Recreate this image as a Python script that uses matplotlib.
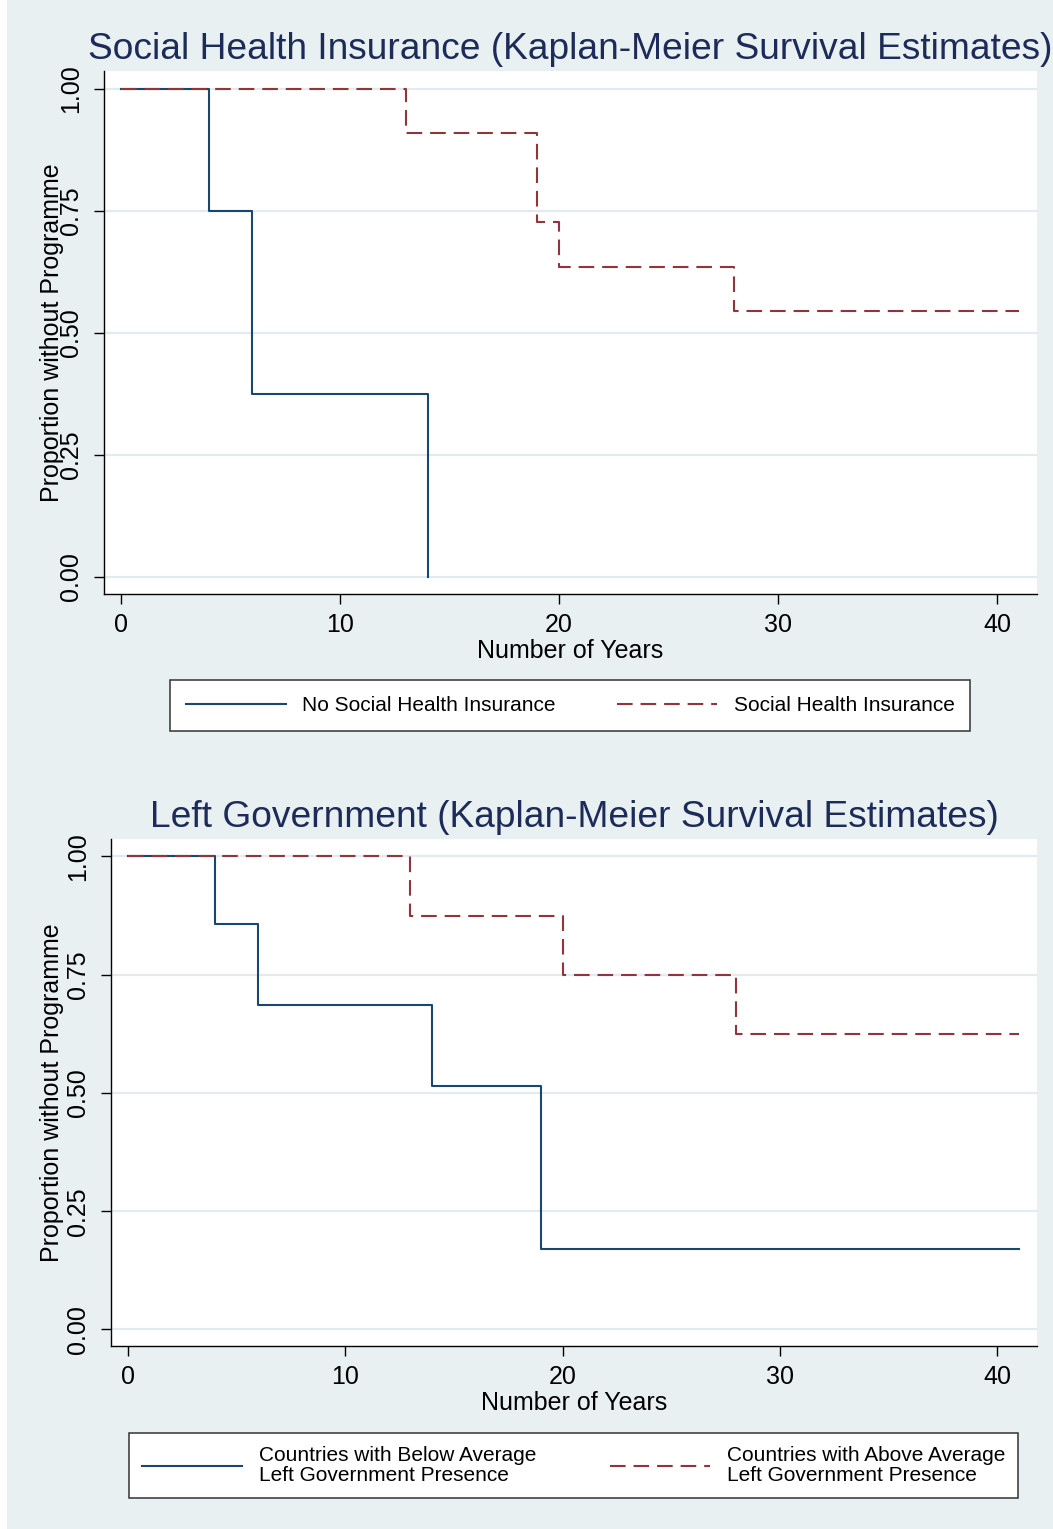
import matplotlib
matplotlib.use("Agg")
import matplotlib.pyplot as plt
from matplotlib.patches import Rectangle

plt.rcParams["font.family"] = ["Liberation Sans", "DejaVu Sans"]

# Kaplan-Meier step estimates, time in years
shi_no_t = [0, 4, 6, 14]
shi_no_s = [1.0, 0.75, 0.375, 0.0]
shi_yes_t = [0, 13, 19, 20, 28, 41]
shi_yes_s = [1.0, 0.909, 0.727, 0.636, 0.545, 0.545]

left_below_t = [0, 4, 6, 14, 19, 41]
left_below_s = [1.0, 0.857, 0.686, 0.514, 0.171, 0.171]
left_above_t = [0, 13, 20, 28, 41]
left_above_s = [1.0, 0.875, 0.75, 0.625, 0.625]

x_ticks = [0, 10, 20, 30, 40]
y_ticks = [0.0, 0.25, 0.5, 0.75, 1.0]

titles = ["Social Health Insurance (Kaplan-Meier Survival Estimates)",
          "Left Government (Kaplan-Meier Survival Estimates)"]
labels_top = ["No Social Health Insurance", "Social Health Insurance"]
labels_bottom = ["Countries with Below Average\nLeft Government Presence",
                 "Countries with Above Average\nLeft Government Presence"]

NAVY = "#1a476f"
MAROON = "#90353b"
TITLE_COLOR = "#1c2b58"
BG = "#e9f0f2"
GRID = "#e3ebee"

W, H = 1053, 1529
fig = plt.figure(figsize=(W / 100, H / 100), dpi=100, facecolor=BG)
fig.patches.append(Rectangle((0, 0), 7 / W, 1, transform=fig.transFigure,
                             facecolor="white", edgecolor="none", zorder=-1))


def px_axes(left, top, right, bottom):
    return fig.add_axes([left / W, 1 - bottom / H, (right - left) / W, (bottom - top) / H])


def style_axes(ax, title, ylab_x, xlab_y):
    ax.set_xlim(-0.78, 41.83)
    ax.set_ylim(-0.035, 1.037)
    ax.set_xticks(x_ticks)
    ax.set_yticks(y_ticks)
    ax.set_yticklabels([f"{v:.2f}" for v in y_ticks], rotation=90, va="center")
    ax.tick_params(axis="both", labelsize=18, length=7.2, width=1.0, color="black")
    ax.tick_params(axis="y", pad=8)
    ax.tick_params(axis="x", pad=6.5)
    for side in ["top", "right"]:
        ax.spines[side].set_visible(False)
    for side in ["left", "bottom"]:
        ax.spines[side].set_linewidth(1.0)
    ax.grid(axis="y", color=GRID, linewidth=1.6)
    ax.set_axisbelow(True)
    ax.set_title(title, fontsize=26.7, color=TITLE_COLOR, pad=8.6)
    ax.set_ylabel("Proportion without Programme", fontsize=18)
    ax.yaxis.set_label_coords(ylab_x, 0.5)
    ax.set_xlabel("Number of Years", fontsize=18)
    ax.xaxis.set_label_coords(0.5, xlab_y)
    ax.xaxis.label.set_verticalalignment("center")


def km_lines(ax, t1, s1, t2, s2, lab1, lab2):
    h1, = ax.step(t1, s1, where="post", color=NAVY, linewidth=1.5, label=lab1)
    h2, = ax.step(t2, s2, where="post", color=MAROON, linewidth=1.5,
                  dashes=(7.5, 3.8), dash_capstyle="butt", label=lab2)
    return [h1, h2]


def add_legend(handles, left, top, right, bottom, borderpad, linespacing=1.2):
    leg = fig.legend(handles=handles, loc="center", ncol=2, mode="expand",
                     bbox_to_anchor=(left / W, 1 - bottom / H, (right - left) / W, (bottom - top) / H),
                     borderaxespad=0, fontsize=15, handlelength=4.8, handletextpad=0.8,
                     borderpad=borderpad, fancybox=False, framealpha=1,
                     edgecolor="#333333", facecolor="white")
    leg.get_frame().set_linewidth(1.1)
    for txt in leg.get_texts():
        txt.set_linespacing(linespacing)
    return leg


# top panel: social health insurance
ax1 = px_axes(104, 71, 1037, 594)
h = km_lines(ax1, shi_no_t, shi_no_s, shi_yes_t, shi_yes_s, *labels_top)
style_axes(ax1, titles[0], ylab_x=-0.043, xlab_y=-0.109)
add_legend(h, 170, 681, 970, 730, borderpad=0.75)

# bottom panel: left government
ax2 = px_axes(111, 839, 1037, 1346)
h = km_lines(ax2, left_below_t, left_below_s, left_above_t, left_above_s, *labels_bottom)
style_axes(ax2, titles[1], ylab_x=-0.051, xlab_y=-0.112)
add_legend(h, 129, 1433, 1018, 1498, borderpad=0.62, linespacing=1.1)

fig.savefig("out.png", dpi=100, facecolor=fig.get_facecolor())
